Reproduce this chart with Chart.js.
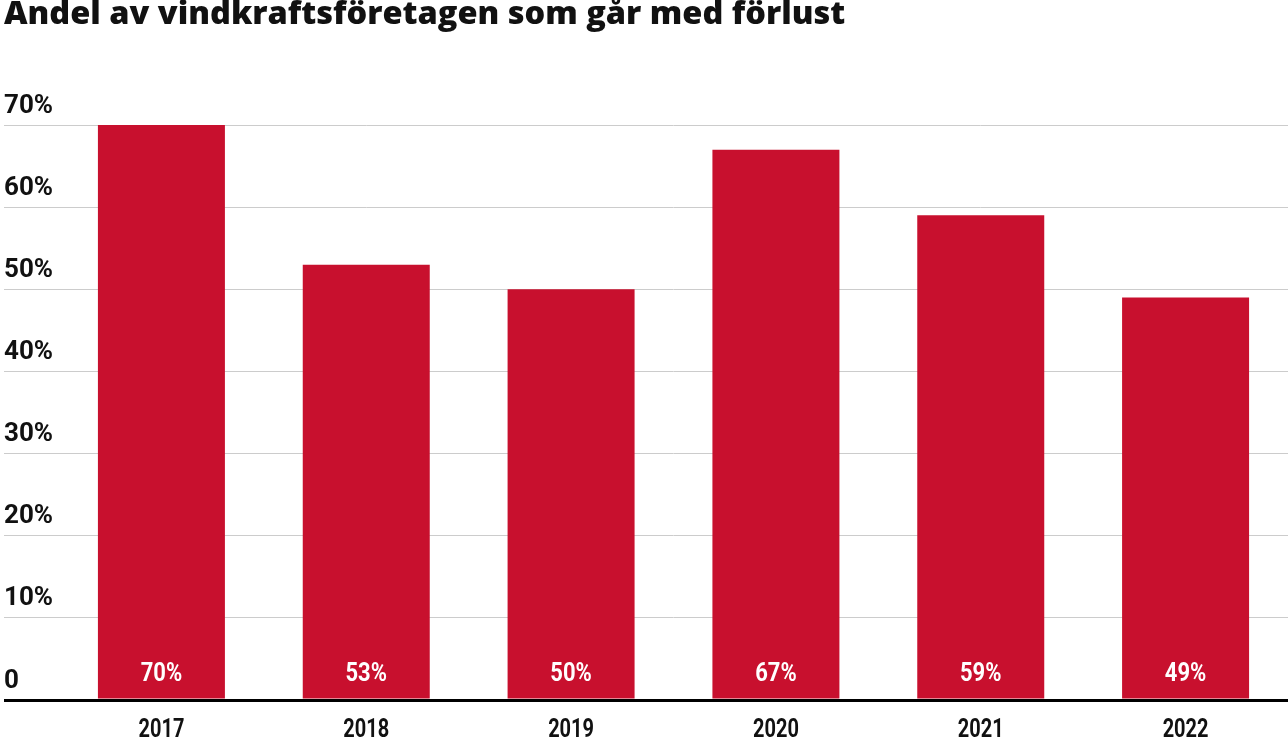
<!DOCTYPE html>
<html><head><meta charset="utf-8">
<script src="https://cdn.jsdelivr.net/npm/chart.js@4"></script>
<style>html,body{margin:0;padding:0;background:#fff;} #wrap{width:1288px;height:740px;position:relative;}</style>
</head><body><div id="wrap"><canvas id="c"></canvas></div>
<script>
const chartTitle = 'Andel av vindkraftsföretagen som går med förlust';
const years = ['2017', '2018', '2019', '2020', '2021', '2022'];
const lossShare = [70, 53, 50, 67, 59, 49];
const yMin = 0, yMax = 70, yStep = 10;

const labelFont = "Roboto, 'Noto Sans', sans-serif";
const red = '#C8102E';

function drawNarrow(ctx, text, x, y, sx) {
  ctx.save();
  ctx.translate(x, y);
  ctx.scale(sx, 1);
  ctx.fillText(text, 0, 0);
  ctx.restore();
}

const narrowLabels = {
  id: 'narrowLabels',
  afterDatasetsDraw(chart) {
    const ctx = chart.ctx;
    const meta = chart.getDatasetMeta(0);
    ctx.save();
    ctx.font = 'bold 25px ' + labelFont;
    ctx.fillStyle = '#ffffff';
    ctx.textAlign = 'center';
    ctx.textBaseline = 'middle';
    meta.data.forEach((bar, i) => {
      drawNarrow(ctx, lossShare[i] + '%', bar.x, bar.base - 24, 0.88);
    });
    ctx.restore();
  },
  afterDraw(chart) {
    const ctx = chart.ctx;
    const xs = chart.scales.x;
    ctx.save();
    ctx.font = 'bold 25px ' + labelFont;
    ctx.fillStyle = '#111111';
    ctx.textAlign = 'center';
    ctx.textBaseline = 'middle';
    xs.ticks.forEach((t, i) => {
      drawNarrow(ctx, xs.getLabelForValue(t.value), xs.getPixelForTick(i), chart.chartArea.bottom + 31, 0.8);
    });
    ctx.restore();
  }
};

new Chart(document.getElementById('c'), {
  type: 'bar',
  data: {
    labels: years,
    datasets: [{
      data: lossShare,
      backgroundColor: red,
      borderWidth: 0,
      categoryPercentage: 1,
      barPercentage: 0.62
    }]
  },
  options: {
    responsive: true,
    maintainAspectRatio: false,
    animation: false,
    devicePixelRatio: 1,
    layout: { padding: { left: 4, right: 0, top: 0, bottom: 0 } },
    plugins: {
      legend: { display: false },
      tooltip: { enabled: false },
      title: {
        display: true,
        text: chartTitle,
        align: 'start',
        color: '#111111',
        font: { family: '"Open Sans", Inter, sans-serif', size: 32.5, weight: '800', lineHeight: 0.9 },
        padding: { top: 0, bottom: 95.75 }
      }
    },
    scales: {
      x: {
        z: 1,
        grid: { display: false, drawTicks: false },
        border: { display: true, color: '#000000', width: 3 },
        ticks: { display: false },
        afterFit(scale) { scale.height = 40; }
      },
      y: {
        min: yMin,
        max: yMax,
        border: { display: false },
        grid: {
          color: (c) => (c.tick && c.tick.value === 0) ? '#000000' : '#cccccc',
          lineWidth: (c) => (c.tick && c.tick.value === 0) ? 3 : 1,
          drawTicks: true,
          tickLength: 55
        },
        ticks: {
          stepSize: yStep,
          color: '#111111',
          font: { family: labelFont, size: 26, weight: 'bold' },
          crossAlign: 'far',
          labelOffset: -19,
          padding: 0,
          callback: (v) => v === 0 ? '0' : v + '%'
        },
        afterFit(scale) { scale.width = 55; }
      }
    }
  },
  plugins: [narrowLabels]
});
</script>
</body></html>
